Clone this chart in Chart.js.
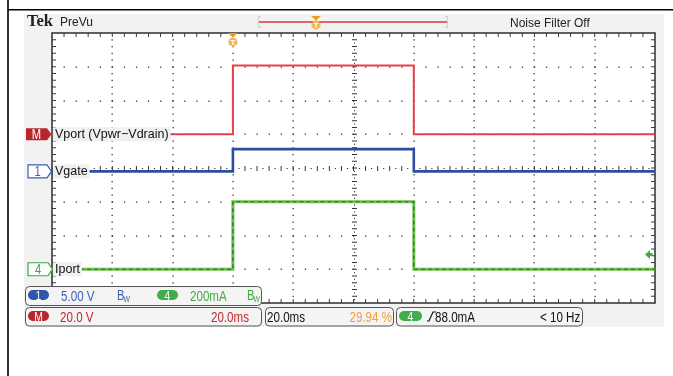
<!DOCTYPE html>
<html>
<head>
<meta charset="utf-8">
<script src="https://cdn.jsdelivr.net/npm/chart.js@4/dist/chart.umd.min.js"></script>
<style>
  html, body { margin: 0; padding: 0; background: #fff; }
  canvas { display: block; }
</style>
</head>
<body>
<canvas id="scope" width="673" height="376"></canvas>
<script>
//
// Scope capture: hot-swap turn-on pulse
//

// time axis (ms), trigger at 0, 20 ms/div
var timeRangeMs = [-60, 140];
var timeMs = [-60, 0, 0, 60, 60, 140];

// channel values
var vportV = [0, 0, 40.8, 40.8, 0, 0];     // M  : 20 V/div
var vgateV = [0, 0, 3.3, 3.3, 0, 0];       // ch1: 5 V/div
var iportMa = [0, 0, 400, 400, 0, 0];      // ch4: 200 mA/div
var triggerLevelMa = 88;

// channel labels
var channelNames = ['Vport (Vpwr\u2212Vdrain)', 'Vgate', 'Iport'];

// readouts
var readoutCh1 = ['1', '5.00 V'];
var readoutCh4 = ['4', '200mA'];
var readoutMath = ['M', '20.0 V', '20.0ms'];
var readoutTime = ['20.0ms', '29.94 %'];
var readoutTrig = ['4', '88.0mA', '< 10 Hz'];

var RED = '#e8404a', BLUE = '#2b4e9e', ORANGE = '#f3a035';
var SANS = '"Liberation Sans", Arial, sans-serif';

function rrect(ctx, x, y, w, h, r) {
	ctx.beginPath();
	ctx.moveTo(x + r, y);
	ctx.arcTo(x + w, y, x + w, y + h, r);
	ctx.arcTo(x + w, y + h, x, y + h, r);
	ctx.arcTo(x, y + h, x, y, r);
	ctx.arcTo(x, y, x + w, y, r);
	ctx.closePath();
}

// condensed text: draw a sans face squeezed horizontally
function narrowText(ctx, str, x, y, size, color, align) {
	ctx.save();
	ctx.font = size + 'px ' + SANS;
	ctx.fillStyle = color;
	ctx.textAlign = align || 'left';
	ctx.translate(x, y);
	ctx.scale(0.8, 1);
	ctx.fillText(str, 0, 0);
	ctx.restore();
}

function pill(ctx, x, y, w, h, fill, text) {
	rrect(ctx, x, y, w, h, h / 2);
	ctx.fillStyle = fill;
	ctx.fill();
	narrowText(ctx, text, x + w / 2, y + h - 0.5, 13, '#fff', 'center');
}

function bw(ctx, x, y, color) {
	narrowText(ctx, 'B', x, y, 14, color);
	narrowText(ctx, 'W', x + 6.5, y + 2, 8.5, color);
}

function trigMarker(ctx, cx, top) {
	ctx.fillStyle = '#f09a1c';
	ctx.beginPath();
	ctx.moveTo(cx - 5, top); ctx.lineTo(cx + 5, top); ctx.lineTo(cx, top + 4.5);
	ctx.closePath(); ctx.fill();
	ctx.fillStyle = '#f7b45a';
	ctx.beginPath();
	ctx.arc(cx, top + 9, 4.5, Math.PI, 0);
	ctx.lineTo(cx + 4.5, top + 11);
	ctx.lineTo(cx, top + 14);
	ctx.lineTo(cx - 4.5, top + 11);
	ctx.closePath(); ctx.fill();
	ctx.strokeStyle = '#fff';
	ctx.lineWidth = 1.2;
	ctx.beginPath();
	ctx.moveTo(cx - 2.2, top + 7.5); ctx.lineTo(cx + 2.2, top + 7.5);
	ctx.moveTo(cx, top + 7.5); ctx.lineTo(cx, top + 12);
	ctx.stroke();
}

function chanBadge(ctx, x0, x1, yc, h, fill, stroke, label, color) {
	ctx.beginPath();
	ctx.moveTo(x0, yc - h / 2); ctx.lineTo(x1, yc - h / 2); ctx.lineTo(x1 + 4.5, yc);
	ctx.lineTo(x1, yc + h / 2); ctx.lineTo(x0, yc + h / 2); ctx.closePath();
	ctx.fillStyle = fill; ctx.fill();
	if (stroke) { ctx.strokeStyle = stroke; ctx.lineWidth = 1.2; ctx.stroke(); }
	narrowText(ctx, label, (x0 + x1) / 2, yc + 5, 14, color, 'center');
}

function chanLabel(ctx, text, yc) {
	ctx.font = '12.5px ' + SANS;
	var w = ctx.measureText(text).width;
	ctx.fillStyle = '#f0f0f0';
	ctx.fillRect(53, yc - 7, w + 4, 14);
	ctx.fillStyle = '#111';
	ctx.textBaseline = 'middle';
	ctx.fillText(text, 55, yc + 0.5);
	ctx.textBaseline = 'alphabetic';
}

// background, grid and frame under the traces
var screenPlugin = {
	id: 'screen',
	beforeDatasetsDraw: function(chart) {
		var ctx = chart.ctx, a = chart.chartArea;
		var xs = chart.scales.x, ys = chart.scales.yDiv;
		ctx.save();
		ctx.fillStyle = '#fff';
		ctx.fillRect(0, 0, chart.width, chart.height);
		// outer frame
		ctx.strokeStyle = '#000'; ctx.lineWidth = 1.6;
		ctx.beginPath();
		ctx.moveTo(8, 0); ctx.lineTo(8, chart.height);
		ctx.moveTo(8, 9.8); ctx.lineTo(chart.width, 9.8);
		ctx.stroke();
		// scope screen
		ctx.fillStyle = '#f2f2f2';
		ctx.fillRect(24, 14, 640, 313);
		ctx.fillStyle = '#fff';
		ctx.fillRect(a.left, a.top, a.right - a.left, a.bottom - a.top);

		// header
		ctx.fillStyle = '#222';
		ctx.font = 'bold 16.5px "Liberation Serif", serif';
		ctx.fillText('Tek', 27, 26);
		ctx.font = '12px ' + SANS;
		ctx.fillText('PreVu', 60, 26);
		ctx.fillText('Noise Filter Off', 510, 27);
		ctx.strokeStyle = '#d23a3a'; ctx.lineWidth = 1.5;
		ctx.beginPath(); ctx.moveTo(259, 22); ctx.lineTo(447, 22); ctx.stroke();
		ctx.strokeStyle = '#cfcfcf'; ctx.lineWidth = 1;
		ctx.beginPath();
		ctx.moveTo(261, 16.5); ctx.lineTo(258.5, 16.5); ctx.lineTo(258.5, 27.5); ctx.lineTo(261, 27.5);
		ctx.moveTo(445, 16.5); ctx.lineTo(447.5, 16.5); ctx.lineTo(447.5, 27.5); ctx.lineTo(445, 27.5);
		ctx.stroke();
		trigMarker(ctx, 316, 16);

		// grid dots
		var nx = 10, ny = 8, dx = (a.right - a.left) / (nx * 5), dy = (a.bottom - a.top) / (ny * 5);
		ctx.fillStyle = '#333';
		var i, k, px, py;
		for (i = 1; i < nx; i++) {
			if (i === 5) continue;
			px = Math.round(xs.getPixelForValue(timeRangeMs[0] + i * 20));
			for (k = 1; k < ny * 5; k++) ctx.fillRect(px - 0.5, a.top + k * dy - 0.5, 1.3, 1.3);
		}
		for (i = -3; i <= 3; i++) {
			if (i === 0) continue;
			py = Math.round(ys.getPixelForValue(i));
			for (k = 1; k < nx * 5; k++) ctx.fillRect(a.left + k * dx - 0.5, py - 0.5, 1.3, 1.3);
		}
		// centre cross
		var cx = Math.round(xs.getPixelForValue(40)) + 0.5, cy = Math.round(ys.getPixelForValue(0)) + 0.5;
		ctx.strokeStyle = '#333'; ctx.lineWidth = 1;
		ctx.beginPath();
		for (k = 1; k < ny * 5; k++) {
			py = a.top + k * dy;
			ctx.moveTo(cx - 2.5, py); ctx.lineTo(cx + 2.5, py);
			ctx.moveTo(cx, py + dy / 2 - 0.6); ctx.lineTo(cx, py + dy / 2 + 0.6);
		}
		for (k = 1; k < nx * 5; k++) {
			px = a.left + k * dx;
			ctx.moveTo(px, cy - 2.5); ctx.lineTo(px, cy + 2.5);
			ctx.moveTo(px + dx / 2 - 0.6, cy); ctx.lineTo(px + dx / 2 + 0.6, cy);
		}
		ctx.stroke();
		// frame with edge ticks
		ctx.strokeStyle = '#3a3a3a'; ctx.lineWidth = 1.6;
		ctx.strokeRect(a.left, a.top, a.right - a.left, a.bottom - a.top);
		ctx.lineWidth = 1;
		ctx.beginPath();
		for (k = 1; k < nx * 5; k++) {
			px = a.left + k * dx;
			ctx.moveTo(px, a.top); ctx.lineTo(px, a.top + 4);
			ctx.moveTo(px, a.bottom); ctx.lineTo(px, a.bottom - 4);
		}
		for (k = 1; k < ny * 5; k++) {
			py = a.top + k * dy;
			ctx.moveTo(a.left, py); ctx.lineTo(a.left + 4, py);
			ctx.moveTo(a.right, py); ctx.lineTo(a.right - 4, py);
		}
		ctx.stroke();
		ctx.restore();
	},

	// markers, labels and readouts on top of the traces
	afterDatasetsDraw: function(chart) {
		var ctx = chart.ctx, a = chart.chartArea;
		var yM = chart.scales.yVport.getPixelForValue(0);
		var y1 = chart.scales.yVgate.getPixelForValue(0);
		var y4 = chart.scales.yIport.getPixelForValue(0);
		ctx.save();

		chanBadge(ctx, 26, 47, yM, 12, '#b8262d', null, 'M', '#fff');
		chanBadge(ctx, 28, 47, y1, 13, '#fff', '#3a5fb5', '1', '#3a5fb5');
		chanBadge(ctx, 28, 48, y4, 13, '#fff', '#3aa53a', '4', '#3aa53a');
		chanLabel(ctx, channelNames[0], yM);
		chanLabel(ctx, channelNames[1], y1);
		chanLabel(ctx, channelNames[2], y4);

		// trigger position and level
		trigMarker(ctx, chart.scales.x.getPixelForValue(0), a.top);
		var yt = chart.scales.yIport.getPixelForValue(triggerLevelMa);
		ctx.fillStyle = '#3fae3a';
		ctx.beginPath();
		ctx.moveTo(a.right - 10, yt); ctx.lineTo(a.right - 5, yt - 4.5); ctx.lineTo(a.right - 5, yt - 1.5);
		ctx.lineTo(a.right - 2.5, yt - 1.5); ctx.lineTo(a.right - 2.5, yt + 1.5); ctx.lineTo(a.right - 5, yt + 1.5);
		ctx.lineTo(a.right - 5, yt + 4.5); ctx.closePath(); ctx.fill();

		// readout boxes
		ctx.strokeStyle = '#555'; ctx.lineWidth = 1;
		ctx.fillStyle = '#f4f4f4';
		rrect(ctx, 25.5, 286.5, 236, 19, 4); ctx.fill(); ctx.stroke();
		rrect(ctx, 25.5, 307.5, 236, 18.5, 4); ctx.fill(); ctx.stroke();
		rrect(ctx, 265.5, 307.5, 128, 18.5, 4); ctx.fill(); ctx.stroke();
		rrect(ctx, 396.5, 307.5, 186, 18.5, 4); ctx.fill(); ctx.stroke();

		var blueTxt = '#3d5fb6', greenTxt = '#43ad43', redTxt = '#c4262e';
		pill(ctx, 28, 290, 21, 10, '#2f56a8', readoutCh1[0]);
		narrowText(ctx, readoutCh1[1], 61, 301, 14.5, blueTxt);
		bw(ctx, 117, 300, blueTxt);
		pill(ctx, 157, 290, 21, 10, '#3fae49', readoutCh4[0]);
		narrowText(ctx, readoutCh4[1], 190, 301, 14.5, greenTxt);
		bw(ctx, 247, 300, greenTxt);

		pill(ctx, 28, 311, 21, 10, '#b8262d', readoutMath[0]);
		narrowText(ctx, readoutMath[1], 60, 322, 14.5, redTxt);
		narrowText(ctx, readoutMath[2], 249, 322, 14.5, redTxt, 'right');
		narrowText(ctx, readoutTime[0], 267, 322, 14.5, '#111');
		narrowText(ctx, readoutTime[1], 392, 322, 14.5, ORANGE, 'right');

		pill(ctx, 399, 311, 23, 10, '#3fae49', readoutTrig[0]);
		ctx.strokeStyle = '#111'; ctx.lineWidth = 1.2;
		ctx.beginPath();
		ctx.moveTo(427, 321); ctx.lineTo(429, 321); ctx.lineTo(433, 312); ctx.lineTo(436, 312);
		ctx.stroke();
		narrowText(ctx, readoutTrig[1], 435, 322, 14.5, '#111');
		narrowText(ctx, readoutTrig[2], 540, 322, 14.5, '#111');
		ctx.restore();
	}
};

function series(xs, ys) {
	return xs.map(function(t, i) { return { x: t, y: ys[i] }; });
}

// higher "order" is drawn first, so the wide green glow sits under its dark core
var scopeChart = new Chart(document.getElementById('scope'), {
	type: 'line',
	data: {
		datasets: [
			{ label: 'Vport', data: series(timeMs, vportV), yAxisID: 'yVport', borderColor: RED, borderWidth: 2, order: 0 },
			{ label: 'Vgate', data: series(timeMs, vgateV), yAxisID: 'yVgate', borderColor: BLUE, borderWidth: 2.6, order: 0 },
			{ label: 'Iport', data: series(timeMs, iportMa), yAxisID: 'yIport', borderColor: '#6cbf4e', borderWidth: 3, order: 2 },
			{ label: 'Iport core', data: series(timeMs, iportMa), yAxisID: 'yIport', borderColor: '#2a6e25', borderWidth: 1.2, borderDash: [4, 3], order: 1 }
		]
	},
	options: {
		responsive: false,
		devicePixelRatio: 1,
		animation: false,
		layout: { padding: { left: 52, top: 33, right: 18, bottom: 73 } },
		elements: { point: { radius: 0 }, line: { tension: 0 } },
		plugins: { legend: { display: false }, tooltip: { enabled: false } },
		scales: {
			x: { type: 'linear', min: timeRangeMs[0], max: timeRangeMs[1], display: false },
			yDiv: { type: 'linear', min: -4, max: 4, display: false },
			yVport: { type: 'linear', min: -100, max: 60, display: false },
			yVgate: { type: 'linear', min: -19.5, max: 20.5, display: false },
			yIport: { type: 'linear', min: -200, max: 1400, display: false }
		}
	},
	plugins: [screenPlugin]
});
</script>
</body>
</html>
